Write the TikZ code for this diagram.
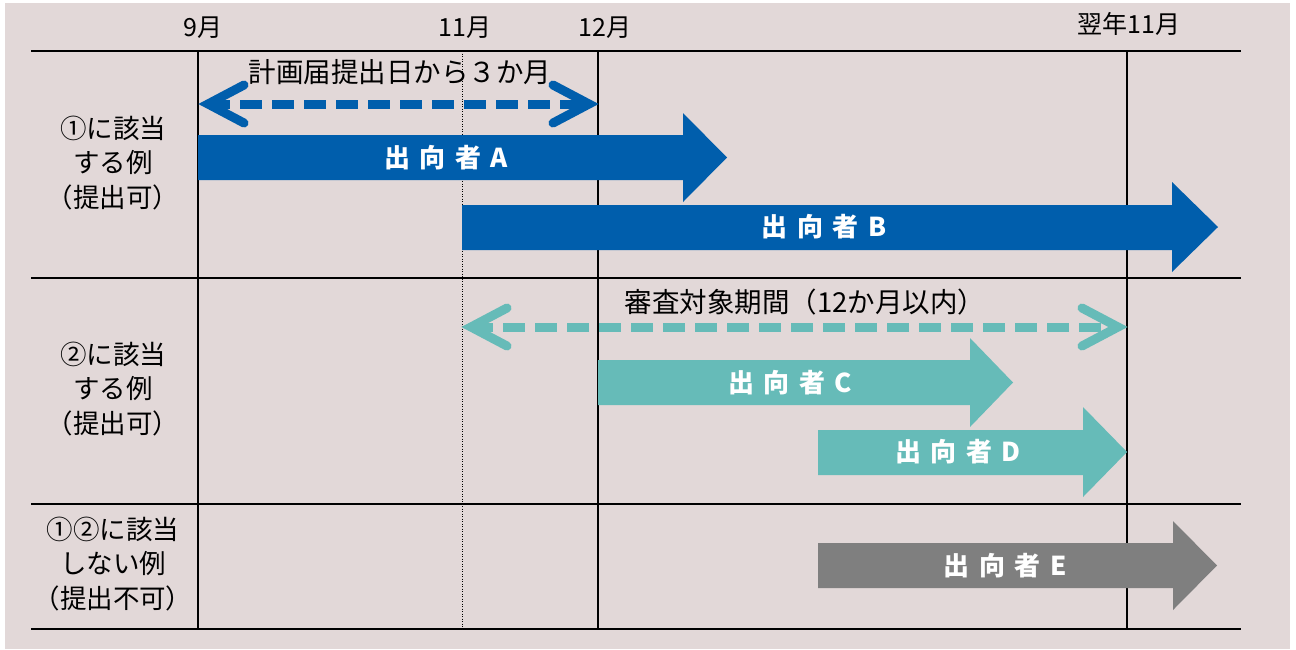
\documentclass[tikz,border=0pt]{standalone}
\usepackage{fontspec}
\setmainfont{Noto Sans CJK JP}
\definecolor{bgC}{RGB}{226,216,216}
\definecolor{blueC}{RGB}{0,94,172}
\definecolor{tealC}{RGB}{102,187,184}
\definecolor{grayC}{RGB}{127,127,127}
\tikzset{
  hline/.style={line width=1.6pt, black},
  vline/.style={line width=2.4pt, black},
  dotline/.style={line width=1pt, black, dash pattern=on 1pt off 1.5pt},
  monthlbl/.style={font=\fontsize{25}{28}\selectfont, inner sep=0},
  toplbl/.style={font=\fontsize{27.5}{30}\selectfont, inner sep=0},
  barlbl/.style={font=\bfseries\fontsize{26}{29}\selectfont, text=white, inner sep=0},
  rowlbl/.style={align=center, font=\fontsize{26.5}{34.5}\selectfont, inner sep=0},
  dasharr/.style={line width=9pt, dash pattern=on 22pt off 10pt},
  chev/.style={line width=9pt, line cap=round, line join=miter}
}
\newcommand{\gp}{\hspace{9.5pt}}
\begin{document}
\begin{tikzpicture}[x=1pt,y=-1pt]
\useasboundingbox (0,0) rectangle (1296,649);
\fill[white] (0,0) rectangle (1296,649);
\fill[bgC] (5,3) rectangle (1290,649);
% grid
\draw[hline] (31,51) -- (1241,51);
\draw[hline] (31,278) -- (1241,278);
\draw[hline] (31,504) -- (1241,504);
\draw[hline] (31,629) -- (1241,629);
\draw[vline] (198,51) -- (198,629);
\draw[dotline] (462,51) -- (462,629);
\draw[vline] (598,51) -- (598,629);
\draw[vline] (1127,51) -- (1127,629);
% month labels
\node[monthlbl] (m9) at (203,28) {9月};
\node[monthlbl] (m11) at (465,28) {11月};
\node[monthlbl] (m12) at (605,28) {12月};
\node[monthlbl] (m11n) at (1129,24) {翌年11月};
% row labels
\node[rowlbl] (r1) at (113,163) {①に該当\\する例\\（提出可）};
\node[rowlbl] (r2) at (113,389) {②に該当\\する例\\（提出可）};
\node[rowlbl] (r3) at (113,564) {①②に該当\\しない例\\（提出不可）};
% blue double arrow
\coordinate (pL) at (208,104);
\coordinate (pR) at (589,104);
\draw[blueC, dasharr] (pL) -- (pR);
\draw[blueC, chev] (pL) ++(36,-19) -- (pL) -- ++(36,19);
\draw[blueC, chev] (pR) ++(-36,-19) -- (pR) -- ++(-36,19);
\node[toplbl] (t1) at (400,72) {計画届提出日から３か月};
% teal double arrow
\coordinate (qL) at (471,327);
\coordinate (qR) at (1118,327);
\draw[tealC, dasharr] (qL) -- (qR);
\draw[tealC, chev] (qL) ++(36,-19) -- (qL) -- ++(36,19);
\draw[tealC, chev] (qR) ++(-36,-19) -- (qR) -- ++(-36,19);
\node[toplbl] (t2) at (805,302) {審査対象期間（12か月以内）};
% bars
\fill[blueC] (198,135) -- (683,135) -- (683,113) -- (727,157.5) -- (683,202) -- (683,180) -- (198,180) -- cycle;
\node[barlbl] (a) at (446,158) {出\gp 向\gp 者\gp A};
\fill[blueC] (462,205) -- (1172,205) -- (1172,182) -- (1218,227) -- (1172,272) -- (1172,250) -- (462,250) -- cycle;
\node[barlbl] (b) at (824,227) {出\gp 向\gp 者\gp B};
\fill[tealC] (598,360) -- (970,360) -- (970,338) -- (1013,382.5) -- (970,427) -- (970,405) -- (598,405) -- cycle;
\node[barlbl] (c) at (790,383) {出\gp 向\gp 者\gp C};
\fill[tealC] (818,430) -- (1083,430) -- (1083,407) -- (1127,452) -- (1083,497) -- (1083,475) -- (818,475) -- cycle;
\node[barlbl] (d) at (958,452) {出\gp 向\gp 者\gp D};
\fill[grayC] (818,543) -- (1173,543) -- (1173,521) -- (1217,565.5) -- (1173,610) -- (1173,588) -- (818,588) -- cycle;
\node[barlbl] (e) at (1005,566) {出\gp 向\gp 者\gp E};
\end{tikzpicture}
\end{document}
